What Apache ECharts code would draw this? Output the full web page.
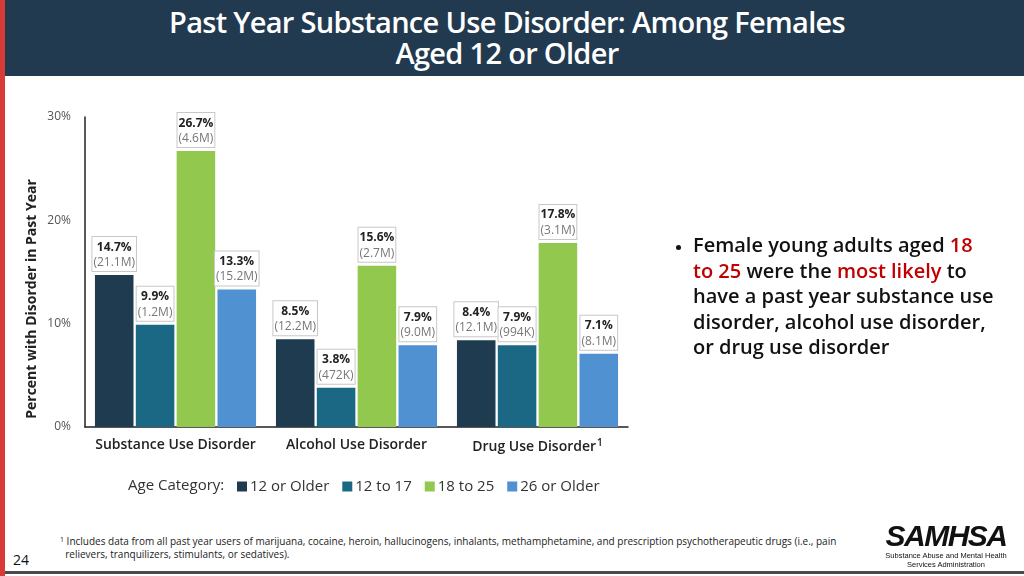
<!DOCTYPE html>
<html>
<head>
<meta charset="utf-8">
<script src="https://cdn.jsdelivr.net/npm/echarts@6/dist/echarts.min.js"></script>
<style>
html,body{margin:0;padding:0;background:#fff;}
#page{position:relative;width:1024px;height:576px;overflow:hidden;background:#fff;font-family:"Open Sans","Noto Sans",sans-serif;}
#redbar{position:absolute;left:0;top:0;width:5px;height:576px;background:#d83a36;}
#header{position:absolute;left:5px;top:0;width:1019px;height:76px;background:#213a4f;color:#fff;text-align:center;font-size:29px;font-weight:600;line-height:31px;padding-top:6px;padding-right:15px;box-sizing:border-box;letter-spacing:-0.7px;}
#bottomline{position:absolute;left:5px;top:571px;width:1019px;height:3px;background:#4a4a4a;}
#chart{position:absolute;left:0;top:76px;width:1024px;height:450px;}
#bullet{position:absolute;left:672px;top:232px;width:345px;font-size:20px;line-height:25.6px;font-weight:600;color:#111;white-space:nowrap;}
#bullet ul{margin:0;padding-left:21px;}
#bullet li::marker{font-size:15px;}
#bullet .r{color:#c00000;}
#foot{position:absolute;left:60px;top:533px;width:790px;font-size:10px;line-height:13px;color:#222;font-family:"Liberation Sans Narrow","Open Sans",sans-serif;}
#foot sup{font-size:7px;vertical-align:3px;}
#pnum{position:absolute;left:13px;top:550px;font-size:14px;color:#111;}
#logo{position:absolute;left:880px;top:521px;width:132px;text-align:center;color:#111;}
#logo .big{font-size:30px;font-weight:900;font-style:italic;line-height:30px;letter-spacing:-1.5px;font-family:"Liberation Sans","Arial",sans-serif;}
#logo .small{font-size:7.5px;line-height:9px;font-family:"Liberation Sans Narrow","Liberation Sans",sans-serif;}
</style>
</head>
<body>
<div id="page">
  <div id="redbar"></div>
  <div id="header">Past Year Substance Use Disorder: Among Females<br>Aged 12 or Older</div>
  <div id="chart"></div>
  <div id="bullet"><ul><li>Female young adults aged <span class="r">18</span><br><span class="r">to 25</span> were the <span class="r">most likely</span> to<br>have a past year substance use<br>disorder, alcohol use disorder,<br>or drug use disorder</li></ul></div>
  <div id="foot"><sup>1</sup> Includes data from all past year users of marijuana, cocaine, heroin, hallucinogens, inhalants, methamphetamine, and prescription psychotherapeutic drugs (i.e., pain<br>&nbsp;&nbsp;relievers, tranquilizers, stimulants, or sedatives).</div>
  <div id="pnum">24</div>
  <div id="logo"><div class="big">SAMHSA</div><div class="small">Substance Abuse and Mental Health<br>Services Administration</div></div>
  <div id="bottomline"></div>
</div>
<script>
const categories = ["Substance Use Disorder", "Alcohol Use Disorder", "Drug Use Disorder"];
const seriesNames = ["12 or Older", "12 to 17", "18 to 25", "26 or Older"];
const pct_12plus = [14.7, 8.5, 8.4];
const pct_12to17 = [9.9, 3.8, 7.9];
const pct_18to25 = [26.7, 15.6, 17.8];
const pct_26plus = [13.3, 7.9, 7.1];
const cnt_12plus = ["21.1M", "12.2M", "12.1M"];
const cnt_12to17 = ["1.2M", "472K", "994K"];
const cnt_18to25 = ["4.6M", "2.7M", "3.1M"];
const cnt_26plus = ["15.2M", "9.0M", "8.1M"];
const yTicks = [0, 10, 20, 30];
const colors = ["#1f3b4f", "#1b6884", "#92c84e", "#4f91d1"];

const allPct = [pct_12plus, pct_12to17, pct_18to25, pct_26plus];
const allCnt = [cnt_12plus, cnt_12to17, cnt_18to25, cnt_26plus];

const chart = echarts.init(document.getElementById('chart'));
const series = seriesNames.map((name, i) => ({
  name: name,
  type: 'bar',
  data: allPct[i],
  barGap: '6%',
  barCategoryGap: '11%',
  itemStyle: { color: colors[i] },
  label: {
    show: true,
    position: 'top',
    distance: 4,
    formatter: p => '{a|' + p.value.toFixed(1) + '%}\n{b|(' + allCnt[i][p.dataIndex] + ')}',
    backgroundColor: '#fff',
    borderColor: '#c8c8c8',
    borderWidth: 1,
    padding: [2, 1, 1, 1],
    rich: {
      a: { fontSize: 12, fontWeight: 'bold', color: '#222', lineHeight: 16, fontFamily: 'Open Sans' },
      b: { fontSize: 12, color: '#777', lineHeight: 15, fontFamily: 'Open Sans' }
    }
  }
}));

chart.setOption({
  animation: false,
  textStyle: { fontFamily: 'Open Sans' },
  grid: { left: 85, right: 396, top: 41, bottom: 99, containLabel: false },
  legend: {
    left: 232, top: 398,
    itemWidth: 10, itemHeight: 10, itemGap: 13,
    icon: 'rect',
    textStyle: { fontSize: 15, color: '#333', padding: [0, 0, 0, -2] },
    data: seriesNames
  },
  graphic: [
    { type: 'text', left: 128, top: 402, style: { text: 'Age Category:', fontSize: 15, fill: '#333', fontFamily: 'Open Sans' } },
    { type: 'text', x: 32, y: 223, rotation: Math.PI / 2, style: { text: 'Percent with Disorder in Past Year', fontSize: 14, fontWeight: 'bold', fill: '#222', fontFamily: 'Open Sans', align: 'center', verticalAlign: 'middle' } }
  ],
  xAxis: {
    type: 'category',
    data: categories,
    axisLine: { lineStyle: { color: '#222', width: 1.5 } },
    axisTick: { show: false },
    axisLabel: {
      margin: 11,
      interval: 0,
      fontSize: 14, color: '#222', fontWeight: 600,
      formatter: (v, i) => i === 2 ? v + '{s|1}' : v,
      rich: { s: { fontSize: 10, fontWeight: 600, color: '#222', verticalAlign: 'top', padding: [0, 0, 8, 1] } }
    }
  },
  yAxis: {
    type: 'value',
    min: 0, max: 30, interval: 10,
    splitLine: { show: false },
    axisLine: { show: true, lineStyle: { color: '#222', width: 1.5 } },
    axisTick: { show: false },
    axisLabel: { fontSize: 12, color: '#555', margin: 14, formatter: v => yTicks.includes(v) ? v + '%' : '' }
  },
  series: series
});
</script>
</body>
</html>
